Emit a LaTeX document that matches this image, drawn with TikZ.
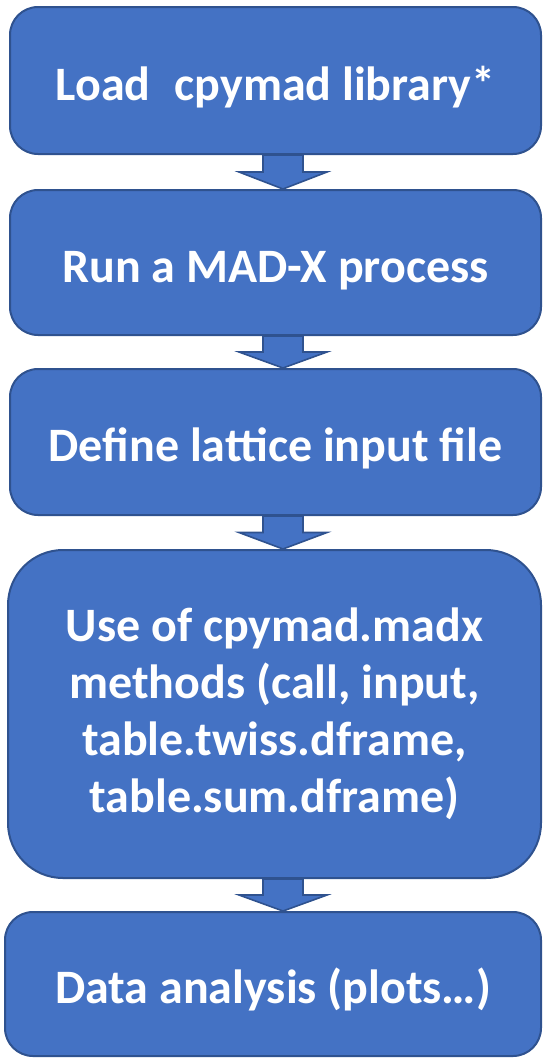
\documentclass[tikz,border=0pt]{standalone}
\usepackage{fontspec}
\setmainfont{Carlito}
\usetikzlibrary{calc}
\definecolor{boxfill}{HTML}{4472C4}
\definecolor{boxline}{HTML}{2F528F}
\tikzset{
  flowbox/.style={draw=boxline, fill=boxfill, line width=2pt, rounded corners=28pt,
    text=white, align=center, inner sep=0pt,
    font=\fontsize{48}{57}\selectfont\bfseries},
  oneline/.style={text height=44pt, text depth=5pt},
  blockarr/.style={draw=boxline, fill=boxfill, line width=1.6pt, line join=miter}
}
\begin{document}
\begin{tikzpicture}[x=1pt,y=1pt]
\useasboundingbox (0,0) rectangle (543,-1058);
\node[flowbox, oneline, minimum width=531pt, minimum height=147pt] (b1) at (275.5,-80.5) {Load\hspace{0.5em}cpymad library*};
\node[flowbox, oneline, minimum width=531pt, minimum height=145pt] (b2) at (275.5,-262.5) {Run a MAD-X process};
\node[flowbox, oneline, minimum width=531pt, minimum height=146pt] (b3) at (275.5,-442) {Define lattice input file};
\node[flowbox, minimum width=533pt, minimum height=328pt, rounded corners=55pt] (b4) at (274.5,-714) {Use of cpymad.madx\\methods (call, input,\\table.twiss.dframe,\\table.sum.dframe)};
\node[flowbox, oneline, minimum width=536pt, minimum height=144pt] (b5) at (273,-984) {Data analysis (plots…)};
\foreach \a/\b in {b1/b2, b2/b3, b3/b4, b4/b5}{
  \draw[blockarr] let \p1=(\a.south), \p2=(\b.north), \n1={(\y1-\y2)/2} in
    (263pt,\y1) -- (263pt,\y1-\n1) -- (239pt,\y1-\n1) -- (283pt,\y2)
    -- (327pt,\y1-\n1) -- (303pt,\y1-\n1) -- (303pt,\y1) -- cycle;
}
\end{tikzpicture}
\end{document}
